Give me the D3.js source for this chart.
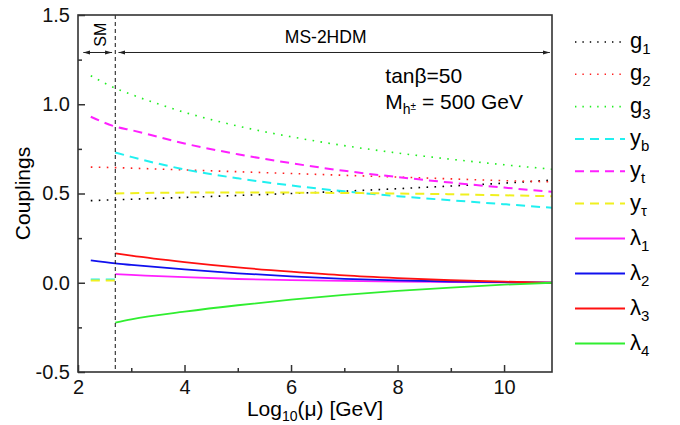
<!DOCTYPE html>
<html>
<head>
<meta charset="utf-8">
<script src="https://cdn.jsdelivr.net/npm/d3@7"></script>
<style>
  body { margin: 0; background: #fff; }
  svg { font-family: 'Liberation Sans', Arial, sans-serif; }
</style>
</head>
<body>
<svg width="680" height="425"></svg>
<script>
/* global d3 */
// log10(mu) sample points
const muFull = [2.24, 2.7, 3, 4, 5, 6, 7, 8, 9, 10, 10.9]
const muHigh = [2.7, 3, 4, 5, 6, 7, 8, 9, 10, 10.9]
const muSM = [2.24, 2.7]

const g1 = [0.46, 0.465, 0.468, 0.478, 0.489, 0.50, 0.513, 0.527, 0.542, 0.558, 0.575]
const g2 = [0.648, 0.645, 0.642, 0.632, 0.622, 0.612, 0.602, 0.592, 0.582, 0.572, 0.565]
const g3 = [1.16, 1.09, 1.055, 0.955, 0.878, 0.818, 0.768, 0.727, 0.692, 0.661, 0.636]
const yt = [0.93, 0.875, 0.855, 0.78, 0.72, 0.67, 0.627, 0.592, 0.561, 0.533, 0.51]
const ybSM = [0.018, 0.018]
const ybHigh = [0.73, 0.705, 0.635, 0.585, 0.545, 0.512, 0.485, 0.462, 0.44, 0.42]
const ytauSM = [0.012, 0.012]
const ytauHigh = [0.50, 0.502, 0.505, 0.506, 0.505, 0.503, 0.50, 0.496, 0.49, 0.485]
const lam1 = [0.048, 0.044, 0.031, 0.021, 0.015, 0.010, 0.007, 0.004, 0.002, 0]
const lam2 = [0.125, 0.108, 0.10, 0.075, 0.053, 0.036, 0.022, 0.013, 0.007, 0.003, 0]
const lam3 = [0.165, 0.152, 0.116, 0.086, 0.062, 0.041, 0.026, 0.014, 0.006, 0]
const lam4 = [-0.223, -0.205, -0.162, -0.126, -0.095, -0.068, -0.046, -0.027, -0.011, 0]

const xTicks = [2, 4, 6, 8, 10]
const xMinor = [3, 5, 7, 9]
const yTicks = [-0.5, 0, 0.5, 1.0, 1.5]
const yMinor = [-0.25, 0.25, 0.75, 1.25]
const mThreshold = 2.7

const svg = d3.select('svg')
const margin = { left: 78, right: 128, top: 15, bottom: 53 }
const width = +svg.attr('width')
const height = +svg.attr('height')

const x = d3.scaleLinear().domain([2, 10.9]).range([margin.left, width - margin.right])
const y = d3.scaleLinear().domain([-0.5, 1.5]).range([height - margin.bottom, margin.top])

let dotted = { dash: '1.6,6.4', width: 1.6 }
let dashed = { dash: '9,6', width: 2 }
let solid = { dash: null, width: 1.8 }

// series: name, colour, style, pieces [[xs, ys]]
const series = [
  { name: 'g', sub: '1', color: '#000000', style: dotted, pieces: [[muFull, g1]] },
  { name: 'g', sub: '2', color: '#ff2020', style: dotted, pieces: [[muFull, g2]] },
  { name: 'g', sub: '3', color: '#20ee20', style: dotted, pieces: [[muFull, g3]] },
  { name: 'y', sub: 'b', color: '#20f0f0', style: dashed, pieces: [[muSM, ybSM], [muHigh, ybHigh]] },
  { name: 'y', sub: 't', color: '#ff20ff', style: dashed, pieces: [[muFull, yt]] },
  { name: 'y', sub: 'τ', color: '#f0f020', style: dashed, pieces: [[muSM, ytauSM], [muHigh, ytauHigh]] },
  { name: 'λ', sub: '1', color: '#ff20ff', style: solid, pieces: [[muHigh, lam1]] },
  { name: 'λ', sub: '2', color: '#1010ee', style: solid, pieces: [[muFull, lam2]] },
  { name: 'λ', sub: '3', color: '#ff1010', style: solid, pieces: [[muHigh, lam3]] },
  { name: 'λ', sub: '4', color: '#30ee30', style: solid, pieces: [[muHigh, lam4]] }
]

const line = d3.line()
  .x(d => x(d[0]))
  .y(d => y(d[1]))
  .curve(d3.curveMonotoneX)

// arrow heads
const defs = svg.append('defs')
defs.append('marker')
  .attr('id', 'arr')
  .attr('viewBox', '0 0 10 10')
  .attr('refX', 10).attr('refY', 5)
  .attr('markerWidth', 7).attr('markerHeight', 7)
  .attr('orient', 'auto-start-reverse')
  .append('path')
  .attr('d', 'M0,2 L10,5 L0,8 z')
  .attr('fill', '#222')

// curves
const curves = svg.append('g')
series.forEach(s => {
  s.pieces.forEach(p => {
    curves.append('path')
      .datum(d3.zip(p[0], p[1]))
      .attr('d', line)
      .attr('fill', 'none')
      .attr('stroke', s.color)
      .attr('stroke-width', s.style.width)
      .attr('stroke-dasharray', s.style.dash)
  })
})

// threshold line
svg.append('line')
  .attr('x1', x(mThreshold)).attr('x2', x(mThreshold))
  .attr('y1', y(1.5)).attr('y2', y(-0.5))
  .attr('stroke', '#111')
  .attr('stroke-width', 1)
  .attr('stroke-dasharray', '4,3')

// region arrows
svg.append('line')
  .attr('x1', x(2.1)).attr('x2', x(2.64))
  .attr('y1', y(1.29)).attr('y2', y(1.29))
  .attr('stroke', '#222').attr('stroke-width', 1)
  .attr('marker-start', 'url(#arr)').attr('marker-end', 'url(#arr)')
svg.append('line')
  .attr('x1', x(2.76)).attr('x2', x(10.86))
  .attr('y1', y(1.29)).attr('y2', y(1.29))
  .attr('stroke', '#222').attr('stroke-width', 1)
  .attr('marker-start', 'url(#arr)').attr('marker-end', 'url(#arr)')

svg.append('text')
  .attr('transform', `translate(${x(2.42) + 6},${y(1.39)}) rotate(-90)`)
  .attr('text-anchor', 'middle')
  .attr('font-size', 16)
  .text('SM')
svg.append('text')
  .attr('x', x(6.65)).attr('y', y(1.31) - 6)
  .attr('text-anchor', 'middle')
  .attr('font-size', 17.5)
  .text('MS-2HDM')

// parameters
const note = svg.append('text').attr('font-size', 21).attr('x', x(7.77))
note.append('tspan').attr('x', x(7.77)).attr('y', y(1.12)).text('tanβ=50')
const n2 = note.append('tspan').attr('x', x(7.77)).attr('y', y(0.975))
n2.append('tspan').text('M')
n2.append('tspan').attr('font-size', 14).attr('dy', 5).text('h')
n2.append('tspan').attr('font-size', 10).attr('dy', -4).text('±')
n2.append('tspan').attr('dy', -1).text(' = 500 GeV')

// axes
const axisColor = '#333'
svg.append('g').attr('transform', `translate(0,${y(-0.5)})`)
  .call(d3.axisBottom(x).tickValues(xTicks).tickSize(-7).tickPadding(8).tickFormat(d3.format('d')))
svg.append('g').attr('transform', `translate(0,${y(-0.5)})`)
  .call(d3.axisBottom(x).tickValues(xMinor).tickSize(-4).tickFormat(''))
svg.append('g').attr('transform', `translate(${x(2)},0)`)
  .call(d3.axisLeft(y).tickValues(yTicks).tickSize(-7).tickPadding(8).tickFormat(d => d.toFixed(1)))
svg.append('g').attr('transform', `translate(${x(2)},0)`)
  .call(d3.axisLeft(y).tickValues(yMinor).tickSize(-4).tickFormat(''))

svg.selectAll('.domain').remove()
svg.selectAll('.tick line').attr('stroke', axisColor).attr('stroke-width', 1.5)
svg.selectAll('.tick text').attr('font-size', 20).attr('fill', '#111')
  .attr('font-family', "'Liberation Sans', Arial, sans-serif")

svg.append('rect')
  .attr('x', x(2)).attr('y', y(1.5))
  .attr('width', x(10.9) - x(2)).attr('height', y(-0.5) - y(1.5))
  .attr('fill', 'none').attr('stroke', axisColor).attr('stroke-width', 1.6)

svg.append('text')
  .attr('transform', `translate(30,${(y(1.5) + y(-0.5)) / 2}) rotate(-90)`)
  .attr('text-anchor', 'middle')
  .attr('font-size', 21)
  .text('Couplings')

const xl = svg.append('text')
  .attr('x', (x(2) + x(10.9)) / 2).attr('y', 416)
  .attr('text-anchor', 'middle')
  .attr('font-size', 21)
xl.append('tspan').text('Log')
xl.append('tspan').attr('font-size', 14).attr('dy', 5).text('10')
xl.append('tspan').attr('dy', -5).text('(μ) [GeV]')

// legend
const legend = svg.append('g')
series.forEach((s, i) => {
  const ly = 42 + i * 32.3 + (i > 5 ? (i - 5) * 2.7 : 0)
  legend.append('line')
    .attr('x1', 575).attr('x2', 625)
    .attr('y1', ly).attr('y2', ly)
    .attr('stroke', s.color)
    .attr('stroke-width', s.style.width)
    .attr('stroke-dasharray', s.style === dotted ? '1.4,6' : s.style.dash)
  const t = legend.append('text').attr('x', 630).attr('y', ly + 6).attr('font-size', 22)
  t.append('tspan').text(s.name)
  t.append('tspan').attr('font-size', 15).attr('dy', 6).text(s.sub)
})
</script>
</body>
</html>
